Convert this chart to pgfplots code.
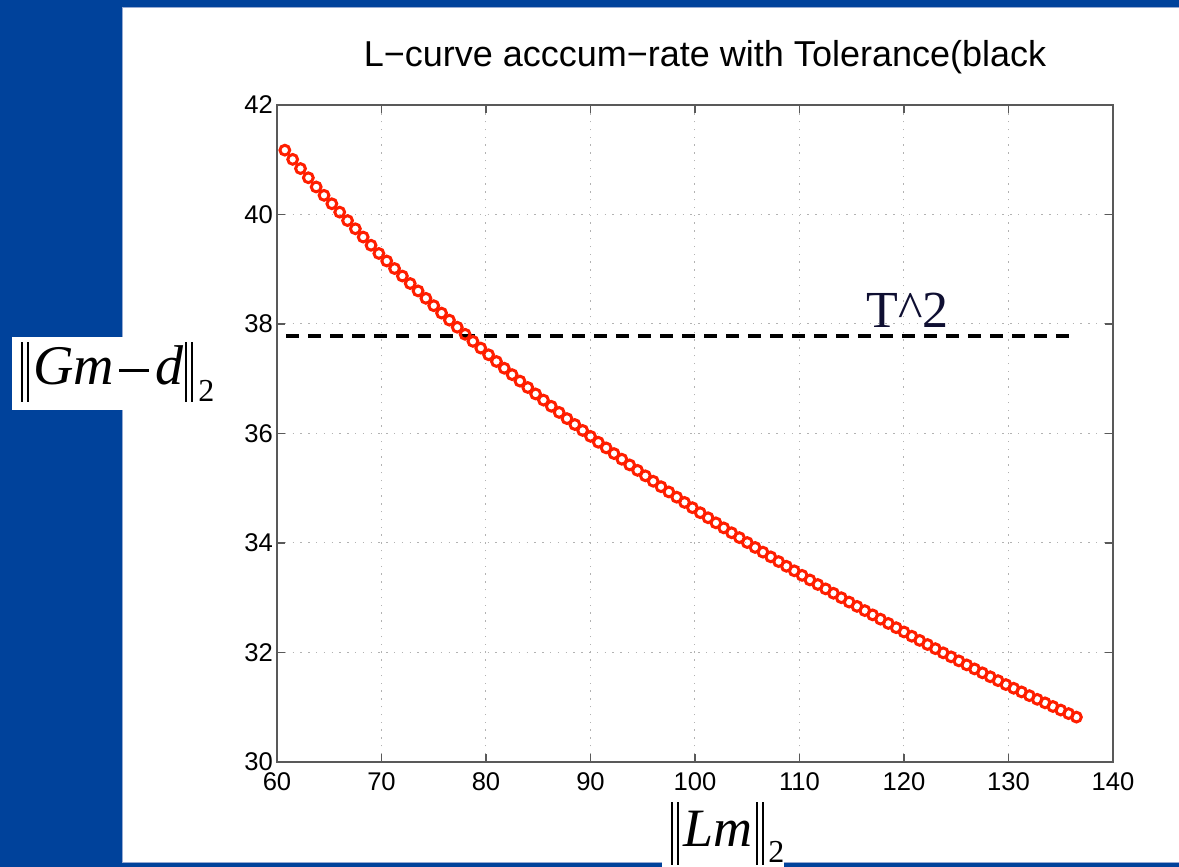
\documentclass[border=0pt]{standalone}
\usepackage{pgfplots}
\usepackage{pgfplotstable}
\pgfplotsset{compat=1.18}
\usepackage{fontspec}
\setmainfont{Liberation Sans}
\newfontfamily\timesfont{Liberation Serif}
\definecolor{slideblue}{RGB}{0,66,155}
\definecolor{paneledge}{RGB}{150,170,210}
\definecolor{mred}{RGB}{255,30,0}
\definecolor{tnavy}{RGB}{15,15,50}

\pgfplotstableread{
x y
60.75 41.175
61.50 41.007
62.25 40.839
63.00 40.671
63.75 40.503
64.50 40.350
65.25 40.196
66.00 40.043
66.75 39.889
67.50 39.739
68.25 39.588
69.00 39.438
69.75 39.288
70.50 39.151
71.25 39.013
72.00 38.876
72.75 38.739
73.50 38.604
74.25 38.469
75.00 38.334
75.75 38.199
76.50 38.070
77.25 37.941
78.00 37.812
78.75 37.683
79.50 37.560
80.25 37.438
81.00 37.315
81.75 37.192
82.50 37.075
83.25 36.957
84.00 36.840
84.75 36.722
85.50 36.610
86.25 36.497
87.00 36.385
87.75 36.272
88.50 36.164
89.25 36.056
90.00 35.948
90.75 35.840
91.50 35.737
92.25 35.633
93.00 35.530
93.75 35.426
94.50 35.327
95.25 35.227
96.00 35.128
96.75 35.028
97.50 34.932
98.25 34.837
99.00 34.741
99.75 34.645
100.50 34.553
101.25 34.461
102.00 34.368
102.75 34.276
103.50 34.187
104.25 34.098
105.00 34.008
105.75 33.919
106.50 33.833
107.25 33.747
108.00 33.661
108.75 33.575
109.50 33.492
110.25 33.409
111.00 33.325
111.75 33.242
112.50 33.162
113.25 33.082
114.00 33.001
114.75 32.921
115.50 32.843
116.25 32.765
117.00 32.687
117.75 32.609
118.50 32.531
119.25 32.453
120.00 32.375
120.75 32.297
121.50 32.221
122.25 32.146
123.00 32.070
123.75 31.994
124.50 31.921
125.25 31.847
126.00 31.774
126.75 31.700
127.50 31.629
128.25 31.557
129.00 31.486
129.75 31.414
130.50 31.347
131.25 31.280
132.00 31.212
132.75 31.145
133.50 31.080
134.25 31.014
135.00 30.949
135.75 30.884
136.50 30.820
}\lcurve

\pgfplotstableread{
x y
60.9 37.78
136.4 37.78
}\tolline

\begin{document}
\begin{tikzpicture}
% page = 1179 x 867 px at 0.5pt per px; axis lower-left at px (277,762)
\path[use as bounding box] (-138.5pt,-52.5pt) rectangle (451pt,381pt);
\fill[slideblue] (-138.5pt,-52.5pt) rectangle (451pt,381pt);
\filldraw[fill=white, draw=paneledge, line width=0.5pt] (-77pt,-50.5pt) rectangle (452pt,377pt);
% white box behind the y label
\fill[white] (-132.5pt,176pt) rectangle (-76pt,212.5pt);
% white box behind the x label (breaks the bottom blue line)
\fill[white] (192.5pt,-53pt) rectangle (253.5pt,-45pt);

\begin{axis}[
  at={(0,0)}, anchor=south west,
  scale only axis, width=418pt, height=328.5pt,
  xmin=60, xmax=140, ymin=30, ymax=42,
  xtick={60,70,...,140}, ytick={30,32,...,42},
  tick align=inside,
  major tick length=4pt,
  grid=major,
  grid style={dash pattern=on 0.7pt off 3.2pt, black!30, line width=0.5pt},
  axis line style={black!65, line width=0.7pt},
  tick style={black!65, line width=0.6pt},
  ticklabel style={font=\fontsize{12.8}{14}\selectfont, text=black},
  /pgf/number format/assume math mode=true,
  yticklabel style={xshift=1.5pt},
  xticklabel style={yshift=-2pt},
  title={L−curve acccum−rate with Tolerance(black},
  title style={at={(rel axis cs:0.512,1)}, anchor=base, yshift=13pt,
    inner sep=0pt, font=\fontsize{18}{20}\selectfont},
]
\addplot[only marks, mark=o, mark size=2.45pt,
  mark options={line width=1.5pt, draw=mred}] table {\lcurve};
\addplot[black, line width=2pt, dash pattern=on 6.5pt off 4.5pt] table {\tolline};
\node[anchor=base west, inner sep=0pt, text=tnavy,
  font=\timesfont\fontsize{26}{28}\selectfont] at (axis cs:116.4,37.93) {T\textasciicircum 2};
\end{axis}

% y label
\node[anchor=base west, inner sep=0pt, font=\timesfont\fontsize{28}{30}\selectfont]
  at (-128pt,188.5pt)
  {\rule[-8.5pt]{1pt}{30pt}\kern2pt\rule[-8.5pt]{1pt}{30pt}\kern2pt\textit{Gm}\kern2.5pt\rule[6.6pt]{15pt}{1.6pt}\kern3pt\textit{d}\kern1pt\rule[-8.5pt]{1pt}{30pt}\kern2pt\rule[-8.5pt]{1pt}{30pt}\kern2.5pt\raisebox{-8.5pt}{\fontsize{16}{17}\selectfont 2}};
% x label
\node[anchor=base west, inner sep=0pt, font=\timesfont\fontsize{27}{29}\selectfont]
  at (197pt,-42.5pt)
  {\rule[-9pt]{1pt}{31.5pt}\kern2pt\rule[-9pt]{1pt}{31.5pt}\kern2pt\textit{Lm}\kern2pt\rule[-9pt]{1pt}{31.5pt}\kern2pt\rule[-9pt]{1pt}{31.5pt}\kern2pt\raisebox{-8pt}{\fontsize{16}{17}\selectfont 2}};
\end{tikzpicture}
\end{document}
